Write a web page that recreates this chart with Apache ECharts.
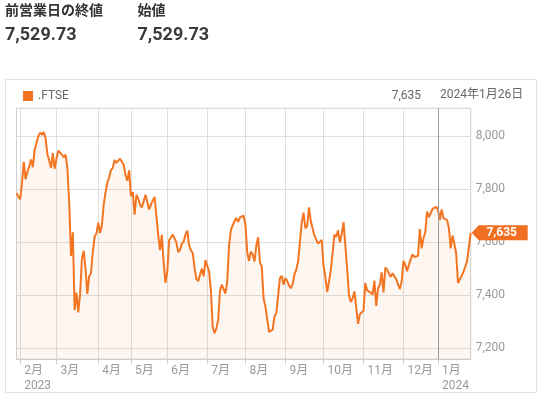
<!DOCTYPE html>
<html><head><meta charset="utf-8">
<script src="https://cdn.jsdelivr.net/npm/echarts@6/dist/echarts.min.js"></script>
<style>html,body{margin:0;padding:0;background:#fff}#c{width:539px;height:394px}</style>
</head><body><div id="c"></div>
<script>
const seriesName = '.FTSE';
const lastDateText = '2024年1月26日';
const prevCloseLabel = '前営業日の終値';
const openLabel = '始値';
const prevCloseText = '7,529.73';
const openText = '7,529.73';

// daily closes, one array per month (trading days)
const jan2023 = [7785, 7772];
const feb2023 = [7761, 7820, 7902, 7836, 7864, 7885, 7911, 7882, 7947, 7953, 7998, 8012, 8004, 8014, 7990, 7931, 7907, 7879, 7935, 7876];
const mar2023 = [7914, 7944, 7947, 7930, 7919, 7929, 7879, 7748, 7548, 7637, 7344, 7410, 7335, 7404, 7536, 7567, 7499, 7405, 7471, 7484, 7564, 7620, 7632];
const apr2023 = [7673, 7634, 7663, 7742, 7786, 7824, 7843, 7871, 7879, 7909, 7898, 7902, 7914, 7912, 7891, 7852, 7831, 7870];
const may2023 = [7773, 7788, 7703, 7778, 7764, 7741, 7730, 7754, 7778, 7751, 7723, 7742, 7756, 7770, 7763, 7627, 7570, 7627, 7522, 7446];
const jun2023 = [7490, 7607, 7600, 7628, 7624, 7599, 7562, 7570, 7594, 7602, 7628, 7643, 7588, 7569, 7559, 7502, 7461, 7453, 7453, 7500, 7471, 7532];
const jul2023 = [7527, 7490, 7420, 7280, 7257, 7274, 7307, 7416, 7440, 7434, 7406, 7453, 7588, 7646, 7663, 7679, 7691, 7676, 7693, 7694, 7699];
const aug2023 = [7666, 7561, 7529, 7564, 7554, 7527, 7587, 7618, 7524, 7507, 7389, 7357, 7310, 7262, 7257, 7270, 7320, 7333, 7338, 7465, 7473, 7439];
const sep2023 = [7465, 7453, 7437, 7426, 7442, 7478, 7496, 7527, 7525, 7673, 7711, 7652, 7660, 7731, 7678, 7684, 7624, 7625, 7594, 7601, 7608];
const oct2023 = [7510, 7470, 7412, 7451, 7494, 7492, 7628, 7620, 7644, 7599, 7630, 7675, 7588, 7499, 7402, 7374, 7389, 7414, 7354, 7292, 7328, 7322];
const nov2023 = [7342, 7446, 7418, 7417, 7410, 7402, 7455, 7360, 7426, 7440, 7486, 7410, 7504, 7496, 7481, 7469, 7483, 7488, 7460, 7455, 7423, 7453];
const dec2023 = [7529, 7514, 7490, 7515, 7514, 7554, 7544, 7543, 7548, 7649, 7576, 7614, 7638, 7715, 7694, 7698, 7725, 7723, 7733];
const jan2024 = [7721, 7683, 7723, 7690, 7694, 7683, 7652, 7576, 7625, 7594, 7558, 7446, 7459, 7462, 7487, 7485, 7528, 7530, 7635];

const monthBlocks = [jan2023, feb2023, mar2023, apr2023, may2023, jun2023, jul2023, aug2023, sep2023, oct2023, nov2023, dec2023, jan2024];
const monthNames = ['1月', '2月', '3月', '4月', '5月', '6月', '7月', '8月', '9月', '10月', '11月', '12月', '1月'];
const blockYears = [2023, 2023, 2023, 2023, 2023, 2023, 2023, 2023, 2023, 2023, 2023, 2023, 2024];
const yearLabelBlocks = [1, 12];

const categories = [];
const values = [];
const labelAt = {};
let yearBoundaryIdx = 0;
monthBlocks.forEach((blk, b) => {
  blk.forEach((v, k) => {
    const idx = categories.length;
    categories.push(blockYears[b] + '-' + (b % 12 + 1) + '-' + (k + 1));
    values.push(v);
    if (k === 0 && b > 0) {
      labelAt[idx] = monthNames[b] + (yearLabelBlocks.indexOf(b) >= 0 ? '\n' + blockYears[b] : '');
      if (b === 12) yearBoundaryIdx = idx;
    }
  });
});
const lastIdx = values.length - 1;
const lastVal = values[lastIdx];
const fmt = v => Number(v).toLocaleString('en-US');
const FONT = 'Roboto, "Noto Sans CJK JP", sans-serif';
const ORANGE = '#f47521';

const chart = echarts.init(document.getElementById('c'), null, {renderer: 'canvas'});
chart.setOption({
  animation: false,
  textStyle: {fontFamily: FONT},
  grid: {left: 16.5, right: 68.3, top: 108.2, bottom: 34.8, show: true, borderColor: '#cfcfcf', borderWidth: 1, containLabel: false},
  legend: {
    left: 23, top: 90, padding: 0, icon: 'rect', itemWidth: 10, itemHeight: 10, itemGap: 5,
    selectedMode: false, data: [seriesName],
    textStyle: {color: '#666', fontSize: 12, fontFamily: FONT}
  },
  graphic: [
    {type: 'rect', shape: {x: 5.5, y: 79.5, width: 531, height: 313}, style: {fill: 'none', stroke: '#e4e4e4', lineWidth: 1}, silent: true},
    {type: 'text', x: 5, y: 11, style: {text: prevCloseLabel, fill: '#333', fontSize: 14, fontWeight: 'bold', fontFamily: FONT, verticalAlign: 'middle'}},
    {type: 'text', x: 137.5, y: 11, style: {text: openLabel, fill: '#333', fontSize: 14, fontWeight: 'bold', fontFamily: FONT, verticalAlign: 'middle'}},
    {type: 'text', x: 5, y: 35, style: {text: prevCloseText, fill: '#3a3a3a', fontSize: 18, fontWeight: 'bold', fontFamily: FONT, verticalAlign: 'middle'}},
    {type: 'text', x: 137.5, y: 35, style: {text: openText, fill: '#3a3a3a', fontSize: 18, fontWeight: 'bold', fontFamily: FONT, verticalAlign: 'middle'}},
    {type: 'text', x: 421, y: 96, style: {text: fmt(lastVal), fill: '#666', fontSize: 12, fontFamily: FONT, align: 'right', verticalAlign: 'middle'}},
    {type: 'text', x: 440, y: 95, style: {text: lastDateText, fill: '#666', fontSize: 12, fontFamily: FONT, align: 'left', verticalAlign: 'middle'}}
  ],
  xAxis: {
    type: 'category', data: categories, boundaryGap: false,
    axisLine: {lineStyle: {color: '#cfcfcf'}},
    axisTick: {show: true, interval: i => (i in labelAt), length: 5, lineStyle: {color: '#cfcfcf'}},
    axisLabel: {
      interval: i => (i in labelAt), formatter: (val, i) => labelAt[i] || '',
      align: 'left', margin: 4, color: '#999', fontSize: 12, lineHeight: 15, padding: [0, 0, 0, 4], fontFamily: FONT
    },
    splitLine: {show: true, interval: i => (i in labelAt), lineStyle: {color: '#dedede'}}
  },
  yAxis: {
    type: 'value', position: 'right', min: 7159, max: 8104, splitNumber: 5, scale: true,
    axisLine: {show: false}, axisTick: {show: false},
    axisLabel: {color: '#999', fontSize: 12, margin: 5, showMinLabel: false, showMaxLabel: false, formatter: v => fmt(v), fontFamily: FONT},
    splitLine: {lineStyle: {color: '#dedede'}}
  },
  series: [{
    name: seriesName, type: 'line', data: values, symbol: 'none', showSymbol: false,
    itemStyle: {color: ORANGE},
    lineStyle: {color: ORANGE, width: 2},
    areaStyle: {origin: 'start', color: 'rgba(244,117,33,0.09)'},
    markLine: {
      silent: true, symbol: 'none', label: {show: false},
      lineStyle: {color: '#9a9a9a', width: 1, type: 'solid'},
      data: [{xAxis: yearBoundaryIdx}]
    },
    markPoint: {
      silent: true,
      data: [{coord: [lastIdx, lastVal], value: lastVal}],
      symbol: 'path://M0,7.5L7,0L56,0L56,15L7,15Z',
      symbolSize: [56, 15], symbolOffset: [29, 0],
      itemStyle: {color: '#f26f21'},
      label: {show: true, formatter: p => fmt(p.value), color: '#fff', fontSize: 12, fontWeight: 'bold', offset: [2, 0], fontFamily: FONT}
    }
  }]
});
</script></body></html>
